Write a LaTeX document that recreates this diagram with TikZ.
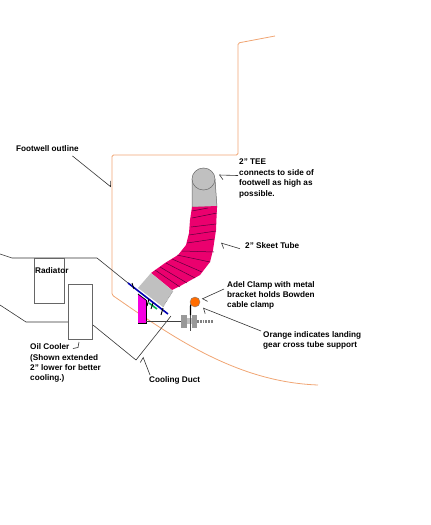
\documentclass[tikz,border=0pt]{standalone}
\usepackage{fontspec}
\setmainfont{Liberation Sans}
\usetikzlibrary{arrows.meta}
\definecolor{outlineorange}{RGB}{240,165,115}
\definecolor{skeetpink}{RGB}{235,0,110}
\definecolor{ribpurple}{RGB}{90,0,60}
\definecolor{flangepink}{RGB}{245,0,225}
\definecolor{teegrey}{RGB}{192,192,192}
\begin{document}
\begin{tikzpicture}[
  x=1pt, y=-1pt,
  font=\bfseries\fontsize{8.2}{10.4}\selectfont,
  note/.style={anchor=north west, align=left, inner sep=0pt, text=black},
  call/.style={draw=black!80, line width=0.6pt, -{Straight Barb[harpoon,length=3.5pt,width=9pt]}},
  duct/.style={draw=black!80, line width=0.6pt},
  foot/.style={draw=outlineorange, line width=0.8pt, rounded corners=1.5pt},
  cooler/.style={draw=black!60, line width=0.8pt, fill=white}
]
\useasboundingbox (0,0) rectangle (431,525);
% footwell
\draw[foot] (275,36) -- (238,43) -- (238,155) -- (112,155) -- (112,295)
  .. controls (170,335) and (235,382) .. (318,385);
% cooling duct
\draw[duct] (0,254) -- (12,258) -- (97,258) -- (128,283);
\draw[duct] (0,305) -- (26,322) -- (68,322);
\draw[duct] (93,325) -- (136,360) -- (171,316);
% radiator and oil cooler
\draw[cooler] (34,258) rectangle (64,303);
\draw[cooler] (68,284) rectangle (92,339);
% tee
\draw[fill=teegrey, draw=black!60, line width=0.5pt] (192,179) -- (192,207) -- (217,207) -- (215,179);
\draw[fill=teegrey, draw=black!60, line width=0.5pt] (203.5,179) ellipse (11.5 and 11);
% skeet tube
\fill[skeetpink] (192,207) -- (190,220) -- (189,233) -- (186,245) -- (178,255) -- (165,263) -- (151,273)
  -- (172,290) -- (182,285) -- (200,275) -- (210,262) -- (213,250) -- (216,230) -- (217,206) -- cycle;
\foreach \xa/\ya/\xb/\yb in {192/211/208/208, 192/218/217/213, 191/227/216/224, 189/235/216/231,
    187/243/214/239, 182/251/214/252, 177/255/210/262, 172/259/202/272, 166/263/195/278,
    160/267/187/283, 155/270/180/287}
  \draw[ribpurple, line width=0.5pt] (\xa,\ya) -- (\xb,\yb);
% lower grey sleeve
\fill[teegrey] (151,273) -- (173,291) -- (163,307) -- (138,288) -- cycle;
\draw[densely dotted, black!60, line width=0.5pt] (173,291) -- (163,307);
% flange
\fill[flangepink] (138,294) -- (146,300) -- (146,323) -- (138,323) -- cycle;
\draw[black, line width=0.8pt] (138,294) -- (146,300);
\draw[black, line width=0.8pt] (146,300) -- (146,323) -- (138,323);
\draw[teal!60!green, line width=1.6pt] (149,303) -- (157,309);
\draw[blue!70!black, line width=1.6pt] (128,283) -- (168,314);
\draw[black, line width=0.9pt] (132,283) -- (134,289) (149,299) -- (147,306) (153,303) -- (151,309)
  (163,308) -- (161,315);
% bracket
\draw[black!75, line width=0.5pt] (146,321.5) -- (181,321.5);
\draw[gray, line width=2.4pt, dash pattern=on 1.8pt off 1pt] (197,321.5) -- (213,321.5);
\fill[gray!80] (181,315) rectangle (187,328);
\fill[gray!80] (192,315) rectangle (197,328);
\fill[gray!50] (187,318) rectangle (192,324);
\draw[black!70, line width=0.5pt] (190,305) -- (190,331);
\draw[black, line width=1.1pt] (190.5,315) -- (190.5,306) -- (192,302);
% tube support
\node[circle, draw=black!50, fill=orange!85!red, minimum size=10pt, inner sep=0pt, line width=0.4pt] (crosstube) at (195,302) {};
% labels
\node[note] (footlabel) at (16,145.5) {Footwell outline};
\node[note] (teelabel) at (239,159) {2'' TEE\\connects to side of\\footwell as high as\\possible.};
\node[note] (skeetlabel) at (245,242.5) {2'' Skeet Tube};
\node[note] (adellabel) at (227,281) {Adel Clamp with metal\\bracket holds Bowden\\cable clamp};
\node[note] (orangelabel) at (263,331) {Orange indicates landing\\gear cross tube support};
\node[note] (oillabel) at (30,343.5) {Oil Cooler\\(Shown extended\\2'' lower for better\\cooling.)};
\node[note] (ductlabel) at (149,376) {Cooling Duct};
\node[note] (radlabel) at (35,267) {Radiator};
% call-outs
\coordinate (footend) at (111,187);
\coordinate (teeend) at (219,175);
\coordinate (skeetend) at (221,243);
\coordinate (adelend) at (202,299);
\coordinate (orangeend) at (203,308);
\coordinate (ductend) at (143,357);
\coordinate (oilend) at (79,342);
\draw[call] (footlabel.south) ++(25,4) -- (footend);
\draw[call] (teelabel.west) ++(-1,-3) -- (teeend);
\draw[call] (skeetlabel.west) ++(-5,3) -- (skeetend);
\draw[call] (adellabel.north west) ++(-3,8) -- (adelend);
\draw[call] (orangelabel.north west) ++(-2,0) -- (orangeend);
\draw[call] (ductlabel.north west) ++(1,-1) -- (ductend);
\draw[duct] (oillabel.north west) ++(43,5) -- ++(5,-1) -- (oilend);
\end{tikzpicture}
\end{document}
